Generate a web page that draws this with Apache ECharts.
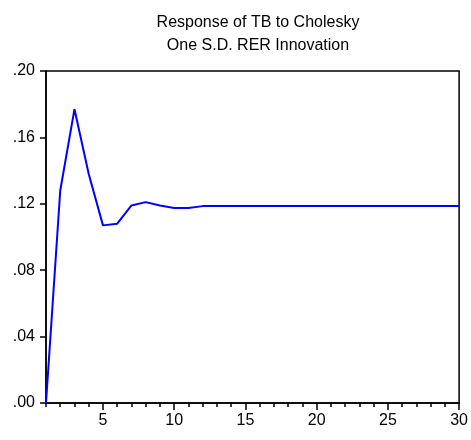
<!DOCTYPE html>
<html>
<head>
<meta charset="utf-8">
<script src="https://cdn.jsdelivr.net/npm/echarts@6/dist/echarts.min.js"></script>
<style>
  html, body { margin: 0; padding: 0; background: #fff; }
  #chart { width: 471px; height: 440px; }
</style>
</head>
<body>
<div id="chart"></div>
<script>
// periods 1..30
var periods = [1, 2, 3, 4, 5, 6, 7, 8, 9, 10, 11, 12, 13, 14, 15,
  16, 17, 18, 19, 20, 21, 22, 23, 24, 25, 26, 27, 28, 29, 30];
// response of TB to RER shock
var response = [0.000, 0.128, 0.177, 0.138, 0.107, 0.108, 0.119, 0.121, 0.119, 0.1175,
  0.1175, 0.1186, 0.1186, 0.1186, 0.1186, 0.1186, 0.1186, 0.1186, 0.1186, 0.1186,
  0.1186, 0.1186, 0.1186, 0.1186, 0.1186, 0.1186, 0.1186, 0.1186, 0.1186, 0.1186];
var majorTicks = [5, 10, 15, 20, 25, 30];
var titleText = 'Response of TB to Cholesky\nOne S.D. RER Innovation';

var chart = echarts.init(document.getElementById('chart'));

var pts = [];
for (var i = 0; i < periods.length; i++) pts.push([periods[i], response[i]]);

var font = '"Liberation Sans", Arial, sans-serif';

chart.setOption({
  animation: false,
  title: {
    text: titleText,
    left: 253,
    top: 6,
    textAlign: 'center',
    textStyle: {
      fontFamily: font,
      fontSize: 16,
      fontWeight: 'normal',
      color: '#000',
      lineHeight: 23
    }
  },
  grid: {
    left: 46,
    right: 10,
    top: 71,
    bottom: 37,
    show: true,
    borderColor: '#000',
    borderWidth: 1.5
  },
  xAxis: [{
    type: 'value',
    min: 1,
    max: 30,
    interval: 1,
    axisLine: { lineStyle: { color: '#000', width: 1.5 } },
    axisTick: { length: 4, lineStyle: { color: '#000', width: 1.5 } },
    splitLine: { show: false },
    axisLabel: {
      margin: 10,
      color: '#000',
      fontFamily: font,
      fontSize: 16,
      formatter: function (v) {
        return majorTicks.indexOf(v) >= 0 ? String(v) : '';
      }
    }
  }, {
    type: 'value',
    position: 'bottom',
    min: 1,
    max: 30,
    interval: 1,
    axisLine: { show: false },
    splitLine: { show: false },
    axisLabel: { show: false },
    axisTick: {
      length: 7,
      customValues: majorTicks,
      lineStyle: { color: '#000', width: 1.5 }
    }
  }],
  yAxis: {
    type: 'value',
    min: 0,
    max: 0.2,
    interval: 0.04,
    axisLine: { show: true, lineStyle: { color: '#000', width: 1.5 } },
    axisTick: { show: true, length: 6, lineStyle: { color: '#000', width: 1.5 } },
    splitLine: { show: false },
    axisLabel: {
      margin: 11,
      color: '#000',
      fontFamily: font,
      fontSize: 16,
      formatter: function (v) {
        return v.toFixed(2).replace('0.', '.');
      }
    }
  },
  series: [{
    type: 'line',
    data: pts,
    showSymbol: false,
    lineStyle: { color: '#0000ff', width: 2 }
  }]
});
</script>
</body>
</html>
